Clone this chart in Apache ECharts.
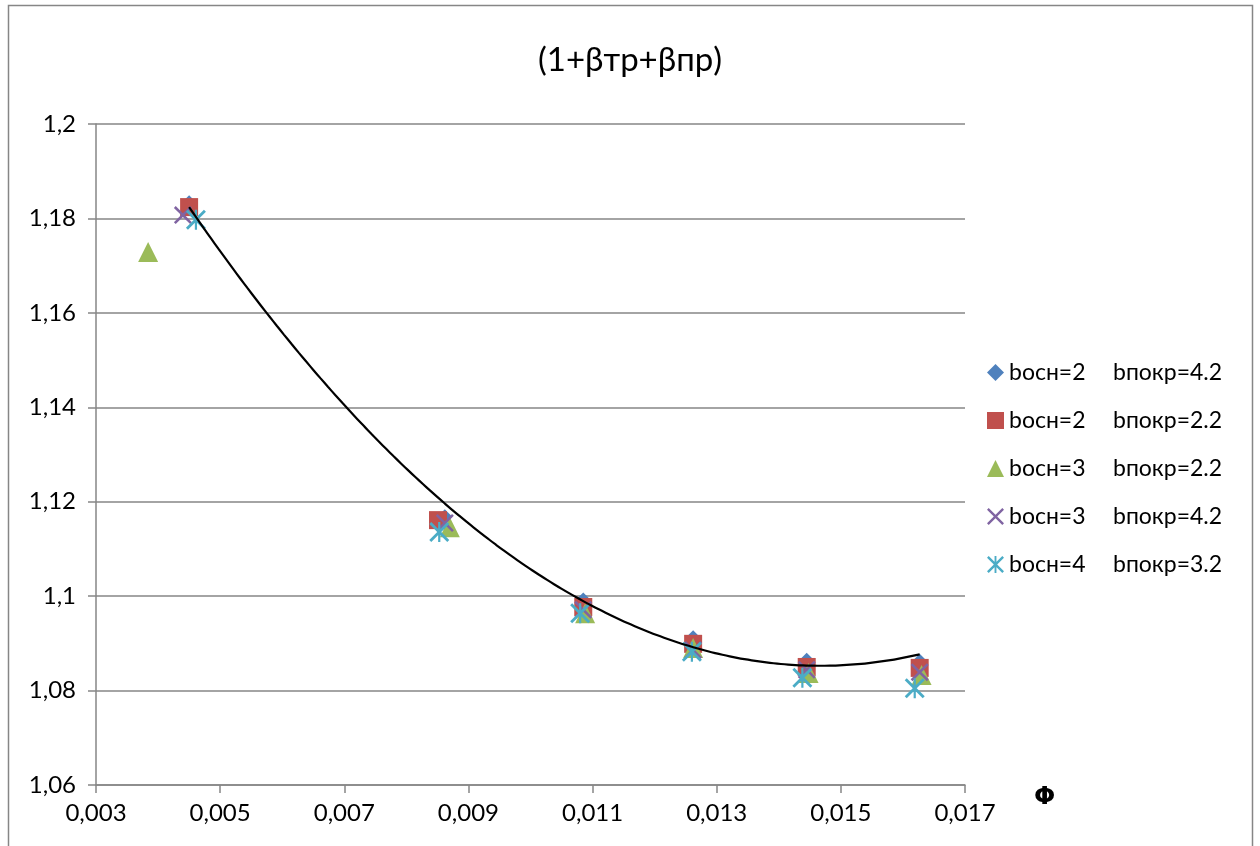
<!DOCTYPE html>
<html>
<head>
<meta charset="utf-8">
<script src="https://cdn.jsdelivr.net/npm/echarts@6/dist/echarts.min.js"></script>
<style>
  html, body { margin: 0; padding: 0; background: #fff; }
  #chart { width: 1260px; height: 846px; }
</style>
</head>
<body>
<div id="chart"></div>
<script>
// Φ values and (1+βтр+βпр) for each combination of bосн / bпокр
const titleText = '(1+βтр+βпр)';
const xName = 'Φ';
const basisLabels = ['bосн=2', 'bосн=2', 'bосн=3', 'bосн=3', 'bосн=4'];
const coverLabels = ['bпокр=4.2', 'bпокр=2.2', 'bпокр=2.2', 'bпокр=4.2', 'bпокр=3.2'];

const phi1 = [0.00450, 0.00862, 0.01085, 0.01262, 0.01445, 0.01627];
const val1 = [1.1833, 1.1168, 1.0992, 1.0912, 1.0864, 1.0862];

const phi2 = [0.00450, 0.00851, 0.01085, 0.01262, 0.01445, 0.01627];
const val2 = [1.1824, 1.1161, 1.0977, 1.0899, 1.0850, 1.0848];

const phi3 = [0.00384, 0.00870, 0.01088, 0.01262, 0.01448, 0.01630];
const val3 = [1.1729, 1.1146, 1.0964, 1.0890, 1.0837, 1.0833];

const phi4 = [0.00440, 0.00862, 0.01085, 0.01262, 0.01445, 0.01627];
const val4 = [1.1807, 1.1155, 1.0971, 1.0886, 1.0844, 1.0839];

const phi5 = [0.00461, 0.00853, 0.01080, 0.01260, 0.01438, 0.01619];
const val5 = [1.1797, 1.1136, 1.0964, 1.0882, 1.0827, 1.0805];

const xTicks = [0.003, 0.005, 0.007, 0.009, 0.011, 0.013, 0.015, 0.017];

const colors = ['#4F81BD', '#C0504D', '#9BBB59', '#8064A2', '#4BACC6'];
const FONT = 'Lato, "Open Sans", sans-serif';

// marker shapes
const crossPath = 'path://M0,1L1,0L5,4L9,0L10,1L6,5L10,9L9,10L5,6L1,10L0,9L4,5Z';
const starPath = 'path://M0,1L1,0L5,4L9,0L10,1L6,5L10,9L9,10L5,6L1,10L0,9L4,5Z' +
                 'M4.45,0L5.55,0L5.55,10L4.45,10Z';
const symbols = ['diamond', 'rect', 'triangle', crossPath, starPath];
const sizes = [15, 18, 20, 18, 20];

const phis = [phi1, phi2, phi3, phi4, phi5];
const vals = [val1, val2, val3, val4, val5];

// second-order polynomial trend fitted by least squares to the first series
function quadFit(xs, ys) {
  let s = [0, 0, 0, 0, 0], t = [0, 0, 0];
  const x0 = xs.reduce((a, b) => a + b, 0) / xs.length;
  for (let i = 0; i < xs.length; i++) {
    const x = xs[i] - x0, y = ys[i];
    let p = 1;
    for (let k = 0; k < 5; k++) { s[k] += p; if (k < 3) t[k] += p * y; p *= x; }
  }
  const M = [[s[0], s[1], s[2], t[0]], [s[1], s[2], s[3], t[1]], [s[2], s[3], s[4], t[2]]];
  for (let c = 0; c < 3; c++) {
    for (let r = c + 1; r < 3; r++) {
      const f = M[r][c] / M[c][c];
      for (let k = c; k < 4; k++) M[r][k] -= f * M[c][k];
    }
  }
  const b = [0, 0, 0];
  for (let r = 2; r >= 0; r--) {
    let v = M[r][3];
    for (let k = r + 1; k < 3; k++) v -= M[r][k] * b[k];
    b[r] = v / M[r][r];
  }
  return x => { const d = x - x0; return b[0] + b[1] * d + b[2] * d * d; };
}
const trend = quadFit(phi1, val1);
const trendData = [];
const tStart = Math.min(...phi1), tEnd = Math.max(...phi1);
for (let i = 0; i <= 100; i++) {
  const x = tStart + (tEnd - tStart) * i / 100;
  trendData.push([x, trend(x)]);
}

const fmt = v => String(parseFloat(v.toFixed(4))).replace('.', ',');

const series = phis.map((xs, i) => ({
  type: 'scatter',
  name: basisLabels[i] + '|' + coverLabels[i],
  data: xs.map((x, j) => [x, vals[i][j]]),
  symbol: symbols[i],
  symbolSize: sizes[i],
  itemStyle: { color: colors[i], opacity: 1 },
  z: 2 + i
}));
series.push({
  type: 'line',
  name: 'trend',
  data: trendData,
  showSymbol: false,
  symbol: 'none',
  smooth: true,
  lineStyle: { color: '#000', width: 2.2 },
  z: 20,
  silent: true
});

const chart = echarts.init(document.getElementById('chart'), null, { renderer: 'canvas' });
chart.setOption({
  animation: false,
  backgroundColor: '#fff',
  textStyle: { fontFamily: FONT },
  title: {
    text: titleText,
    left: 'center',
    top: 39,
    textStyle: { fontFamily: FONT, fontSize: 33, fontWeight: 'normal', color: '#000' }
  },
  grid: { left: 96, right: 295, top: 124, bottom: 61, containLabel: false },
  xAxis: {
    type: 'value',
    min: 0.003,
    max: 0.017,
    name: '{p|' + xName + '}',
    nameLocation: 'end',
    nameGap: 69,
    nameTextStyle: {
      verticalAlign: 'top', padding: [0, 0, 0, 0],
      rich: { p: { fontFamily: 'DejaVu Sans', fontSize: 25, fontWeight: 'bold', color: '#000' } }
    },
    axisLine: { lineStyle: { color: '#868686', width: 1.5 } },
    axisTick: { show: true, length: 8, customValues: xTicks, lineStyle: { color: '#868686', width: 1.5 } },
    axisLabel: { customValues: xTicks, formatter: fmt, margin: 16, fontSize: 24, color: '#000', fontFamily: FONT },
    splitLine: { show: false }
  },
  yAxis: {
    type: 'value',
    min: 1.06,
    max: 1.2,
    interval: 0.02,
    axisLine: { show: true, lineStyle: { color: '#868686', width: 1.5 } },
    axisTick: { show: true, length: 8, lineStyle: { color: '#868686', width: 1.5 } },
    axisLabel: { formatter: fmt, margin: 20, fontSize: 24, color: '#000', fontFamily: FONT },
    splitLine: { show: true, lineStyle: { color: '#868686', width: 1.5 } }
  },
  legend: {
    orient: 'vertical',
    left: 982,
    top: 356,
    itemGap: 25,
    itemWidth: 17,
    itemHeight: 17,
    data: series.slice(0, 5).map(s => s.name),
    formatter: name => {
      const p = name.split('|');
      return '{a|' + p[0] + '}{b|' + p[1] + '}';
    },
    textStyle: {
      fontFamily: FONT, fontSize: 23, color: '#000',
      rich: {
        a: { width: 104, fontFamily: FONT, fontSize: 23, color: '#000' },
        b: { fontFamily: FONT, fontSize: 23, color: '#000' }
      }
    }
  },
  graphic: [{
    type: 'rect',
    shape: { x: 8.5, y: 5.5, width: 1244, height: 860 },
    style: { fill: 'none', stroke: '#868686', lineWidth: 1.5 },
    silent: true,
    z: -10
  }],
  series: series
});
</script>
</body>
</html>
